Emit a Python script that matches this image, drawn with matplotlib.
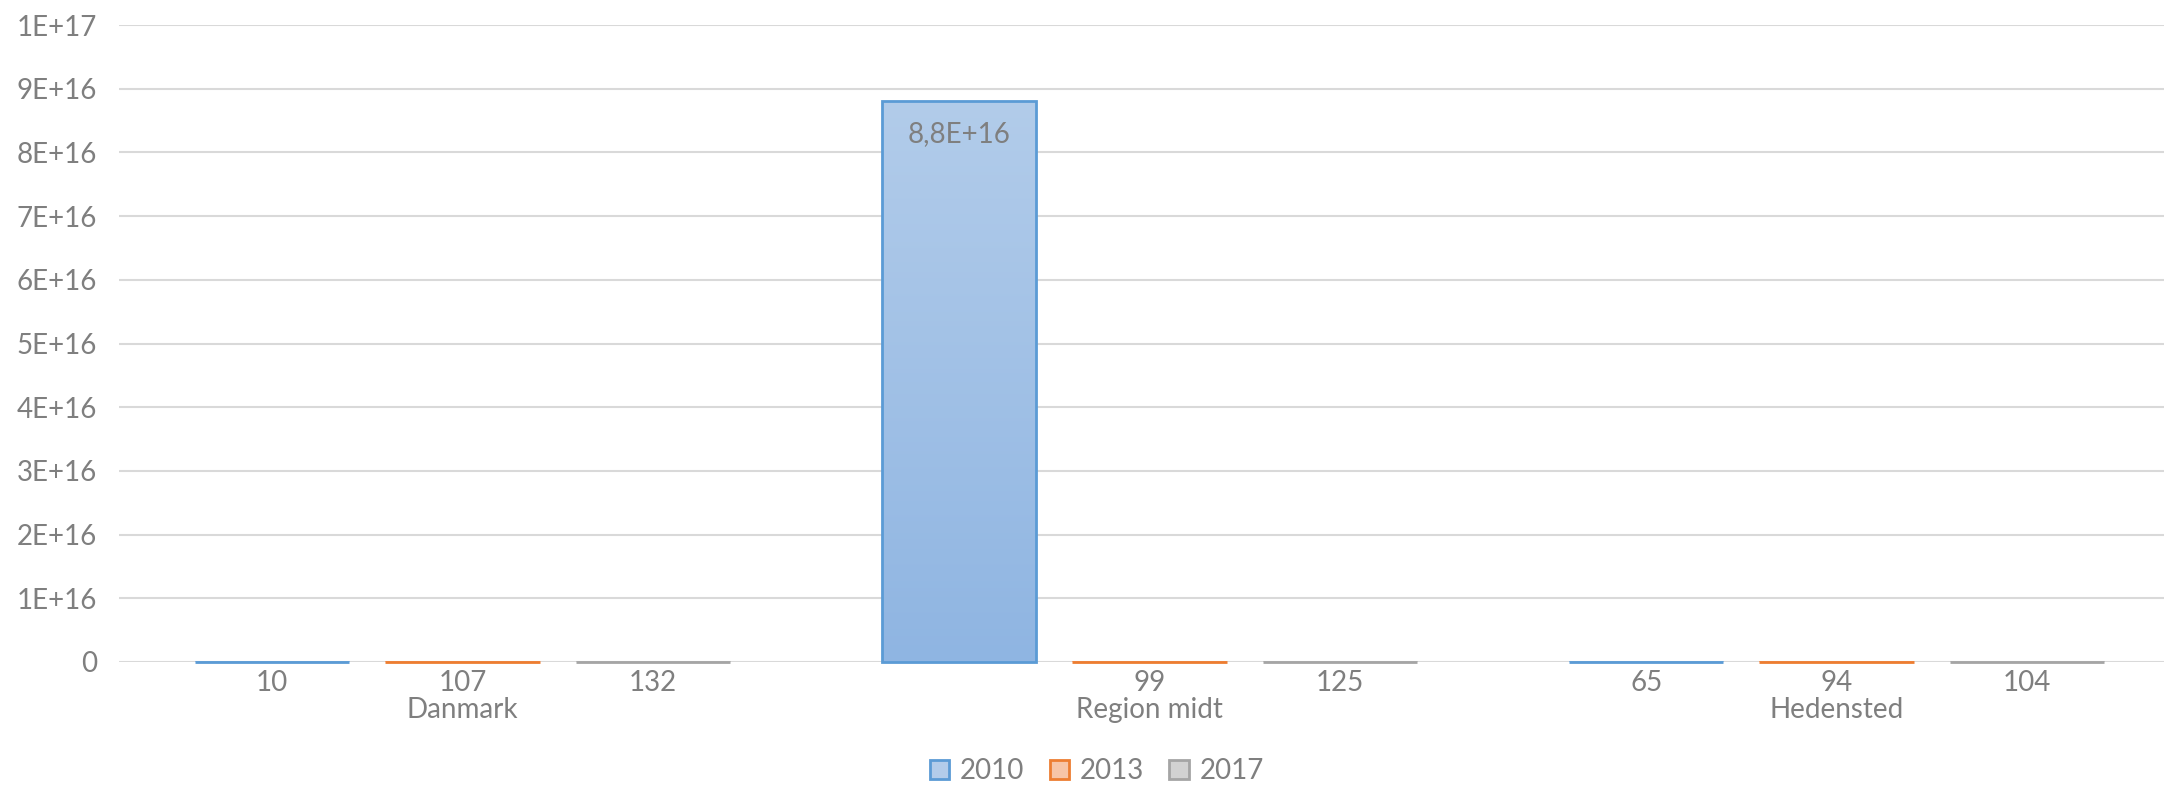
import numpy as np
import matplotlib.pyplot as plt
from matplotlib.colors import LinearSegmentedColormap
from matplotlib.patches import Patch
from matplotlib.ticker import FuncFormatter

plt.rcParams['font.family'] = ['Lato', 'DejaVu Sans']

# data
categories = ['Danmark', 'Region midt', 'Hedensted']
years = ['2010', '2013', '2017']
v2010 = [10, 8.8e16, 65]
v2013 = [107, 99, 94]
v2017 = [132, 125, 104]
series = [v2010, v2013, v2017]

edge_cols = ['#5B9BD5', '#ED7D31', '#A5A5A5']
fill_top = ['#B2CCEA', '#F7C4A6', '#D2D2D2']
fill_bot = ['#8FB5E2', '#F3A97D', '#BEBEBE']
txt = '#7F7F7F'
fs = 20

def fmt_val(v):
    # excel "General" format, danish decimal comma
    if v == 0:
        return '0'
    if abs(v) >= 1e11:
        s = '%.1E' % v if v % 10**int(np.log10(v)) else '%.0E' % v
        return s.replace('.', ',')
    return '%g' % v

fig = plt.figure(figsize=(21.64, 7.86), dpi=100)
W, H = 2164, 786
ax = fig.add_axes([119 / W, (H - 662) / H, (2180 - 119) / W, (662 - 25) / H])

x = np.arange(len(categories))
width = 0.225
step = 0.277

for i, vals in enumerate(series):
    pos = x + (i - 1) * step
    bars = ax.bar(pos, vals, width, facecolor='none', edgecolor=edge_cols[i],
                  linewidth=2, zorder=3, clip_on=False)
    cmap = LinearSegmentedColormap.from_list('g%d' % i, [fill_bot[i], fill_top[i]])
    for b, v in zip(bars, vals):
        x0 = b.get_x()
        grad = np.linspace(0, 1, 256).reshape(-1, 1)
        ax.imshow(grad, extent=[x0, x0 + width, 0, max(v, 1)], origin='lower',
                  aspect='auto', cmap=cmap, zorder=2)
        if v > 1e15:
            ax.annotate(fmt_val(v), (b.get_x() + width / 2, v), xytext=(0, -14),
                        textcoords='offset points', ha='center', va='top',
                        fontsize=fs, color=txt)
        else:
            ax.annotate(fmt_val(v), (b.get_x() + width / 2, 0), xytext=(0, -6),
                        textcoords='offset points', ha='center', va='top',
                        fontsize=fs, color=txt)

ax.set_xlim(-0.5, 2.5)
ax.set_ylim(0, 1e17)
ax.set_yticks(np.arange(0, 1.01e17, 1e16))
ax.yaxis.set_major_formatter(FuncFormatter(lambda v, p: fmt_val(round(v / 1e15) * 1e15)))
ax.set_xticks(x)
ax.set_xticklabels(categories)
ax.tick_params(axis='y', length=0, pad=16, labelsize=fs, labelcolor=txt)
ax.tick_params(axis='x', length=0, pad=25, labelsize=fs, labelcolor=txt)
ax.grid(axis='y', color='#D9D9D9', linewidth=1.5, zorder=0)
ax.set_axisbelow(True)
for s in ax.spines.values():
    s.set_visible(False)

handles = [Patch(facecolor=fill_top[i], edgecolor=edge_cols[i], linewidth=2)
           for i in range(3)]
fig.legend(handles, years, loc='center', bbox_to_anchor=(1097 / W, 1 - 771 / H),
           ncol=3, frameon=False, fontsize=fs, labelcolor=txt,
           handlelength=0.7, handleheight=0.7, handletextpad=0.4, columnspacing=0.9)

fig.savefig('out.png', dpi=100)
